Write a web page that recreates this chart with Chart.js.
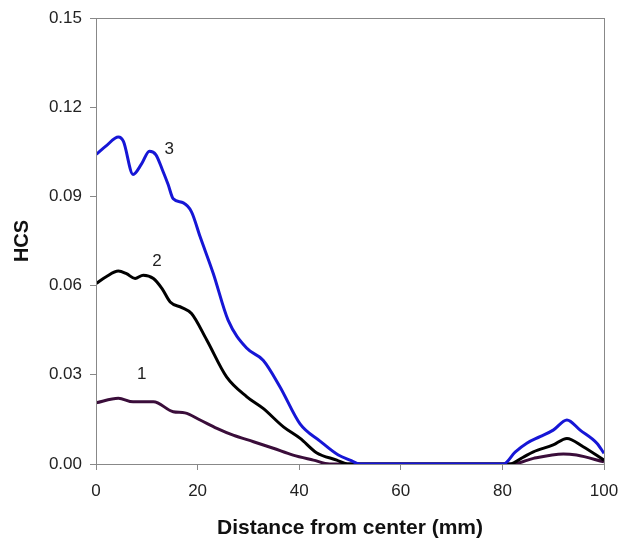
<!DOCTYPE html>
<html>
<head>
<meta charset="utf-8">
<script src="https://cdn.jsdelivr.net/npm/chart.js@4/dist/chart.umd.min.js"></script>
<style>
  html, body { margin: 0; padding: 0; background: #fff; }
  #wrap { width: 620px; height: 541px; position: relative; }
</style>
</head>
<body>
<div id="wrap"><canvas id="hcsChart"></canvas></div>
<script>
// ---- data ----
const xTicks = [0, 20, 40, 60, 80, 100];
const yTicks = [0.00, 0.03, 0.06, 0.09, 0.12, 0.15];

// curve 3 (blue)
const dist3 = [0, 2, 4.4, 5.4, 7.3, 9, 10.5, 11.8, 13.1, 14.2, 15.2, 17.2, 18.8, 20.5, 23.1, 26, 29.7, 32.9, 36.2, 40.2, 44.1, 47.7, 50, 52, 60, 70, 80.2, 82.5, 84.8, 87.4, 90, 92.7, 95.3, 98.6, 100];
const hcs3  = [0.1041, 0.107, 0.110, 0.1085, 0.0974, 0.101, 0.1052, 0.104, 0.0988, 0.094, 0.0892, 0.0878, 0.0848, 0.0764, 0.064, 0.0484, 0.0389, 0.0349, 0.026, 0.0134, 0.0077, 0.003, 0.0013, 0, 0, 0, 0, 0.004, 0.007, 0.0092, 0.0114, 0.0148, 0.0114, 0.007, 0.0036];

// curve 2 (black)
const dist2 = [0, 2, 4.4, 6, 7.7, 9.3, 11.3, 13, 14.6, 16.9, 18.8, 21.8, 25.7, 29.7, 32.9, 36.9, 40.2, 43.4, 47.4, 49.5, 60, 70, 81.5, 84, 86.1, 90, 92.7, 95.9, 100];
const hcs2  = [0.0607, 0.063, 0.0649, 0.064, 0.0624, 0.0635, 0.0624, 0.059, 0.0545, 0.0526, 0.0506, 0.0417, 0.0293, 0.0226, 0.0187, 0.0125, 0.0086, 0.0038, 0.0013, 0, 0, 0, 0, 0.0022, 0.0041, 0.0064, 0.0086, 0.0058, 0.0013];

// curve 1 (purple)
const dist1 = [0, 4.4, 7.3, 11.3, 15.2, 17.5, 20.5, 23.8, 27, 31, 34.9, 38.8, 42.8, 46, 60, 70, 82, 86.1, 92, 94.6, 100];
const hcs1  = [0.0206, 0.0221, 0.0209, 0.0209, 0.0176, 0.0172, 0.0148, 0.012, 0.0097, 0.0075, 0.0053, 0.003, 0.0013, 0, 0, 0, 0, 0.0019, 0.0034, 0.003, 0.0007];

// curve number labels: [text, x, y]
const curveLabels = [["3", 14.4, 0.106], ["2", 12, 0.0682], ["1", 9, 0.030]];

const pts = (xs, ys) => xs.map((x, i) => ({ x: x, y: ys[i] }));

/* frame + curve numbers */
const framePlugin = {
    id: "frame",
    afterDatasetsDraw(chart) {
        const { ctx, chartArea: a, scales } = chart;
        ctx.save();
        ctx.strokeStyle = "#888";
        ctx.lineWidth = 1;
        ctx.strokeRect(a.left + 0.5, a.top + 0.5, a.right - a.left, a.bottom - a.top);
        ctx.fillStyle = "#222";
        ctx.font = "17px 'Liberation Sans', Arial, sans-serif";
        ctx.textAlign = "center";
        ctx.textBaseline = "middle";
        curveLabels.forEach(([t, x, y]) => {
            ctx.fillText(t, scales.x.getPixelForValue(x), scales.y.getPixelForValue(y));
        });
        ctx.restore();
    }
};

const lineStyle = (color) => ({
    borderColor: color,
    borderWidth: 3,
    pointRadius: 0,
    fill: false,
    cubicInterpolationMode: "monotone"
});

new Chart(document.getElementById("hcsChart"), {
    type: "line",
    data: {
        datasets: [
            Object.assign({ label: "3", data: pts(dist3, hcs3) }, lineStyle("#1616d6")),
            Object.assign({ label: "2", data: pts(dist2, hcs2) }, lineStyle("#000000")),
            Object.assign({ label: "1", data: pts(dist1, hcs1) }, lineStyle("#3a0d3a"))
        ]
    },
    options: {
        responsive: true,
        maintainAspectRatio: false,
        animation: false,
        layout: { padding: { top: 18, right: 16, left: 0, bottom: 0 } },
        plugins: { legend: { display: false }, tooltip: { enabled: false } },
        scales: {
            x: {
                type: "linear",
                min: 0, max: 100,
                afterBuildTicks: (s) => { s.ticks = xTicks.map(v => ({ value: v })); },
                afterFit: (s) => { s.height = 77; s.paddingLeft = 0; s.paddingRight = 0; },
                grid: { drawOnChartArea: false, tickLength: 6, color: "#888" },
                border: { color: "#888" },
                ticks: { color: "#222", padding: 11, font: { family: "'Liberation Sans', Arial", size: 17 }, maxRotation: 0 },
                title: {
                    display: true, text: "Distance from center (mm)", color: "#111",
                    font: { family: "'Liberation Sans', Arial", size: 21, weight: "bold" },
                    padding: { top: 20, bottom: 0 }
                }
            },
            y: {
                min: 0, max: 0.15,
                afterBuildTicks: (s) => { s.ticks = yTicks.map(v => ({ value: v })); },
                afterFit: (s) => { s.width = 96; s.paddingTop = 0; s.paddingBottom = 0; },
                grid: { drawOnChartArea: false, tickLength: 6, color: "#888" },
                border: { color: "#888" },
                ticks: {
                    color: "#222", padding: 8,
                    font: { family: "'Liberation Sans', Arial", size: 17 },
                    callback: (v) => Number(v).toFixed(2)
                },
                title: {
                    display: true, text: "HCS", color: "#111",
                    font: { family: "'Liberation Sans', Arial", size: 20, weight: "bold" },
                    padding: { top: 10, bottom: 0 }
                }
            }
        }
    },
    plugins: [framePlugin]
});
</script>
</body>
</html>
